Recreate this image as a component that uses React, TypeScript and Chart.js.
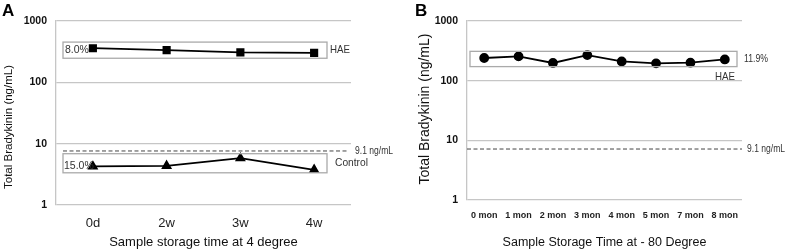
import React, { useEffect, useRef } from "react";
import { Chart, registerables } from "chart.js";

Chart.register(...registerables);

// Panel A data
const catsA = ["0d", "2w", "3w", "4w"];
const haeA = [360, 335, 307, 302];
const controlA = [4.25, 4.35, 5.8, 3.75];
// Panel B data
const catsB = ["0 mon", "1 mon", "2 mon", "3 mon", "4 mon", "5 mon", "7 mon", "8 mon"];
const haeB = [240, 255, 198, 268, 210, 195, 200, 227];
// y-axis ticks
const yTicks = [1, 10, 100, 1000];
// Reference (cut-off) lines as drawn
const cutoffA = 7.6;
const cutoffB = 7.15;
const cutoffLabel = "9.1 ng/mL";
const yTitleText = "Total Bradykinin (ng/mL)";
// CV boxes [low, high]
const boxHaeA = [247, 453];
const boxCtrlA = [3.35, 6.86];
const boxHaeB = [172, 310];

const FONT = "'Liberation Sans', Arial, sans-serif";
const GRID = "#c6c6c6";

type Ann = {
  letter: string;
  letterX: number;
  cutoff: number;
  dashL: number;
  dashR: number;
  labelX: number;
  labelW: number;
  yTitle: { x: number; y: number; size: number };
  boxes: { range: number[]; l: number; r: number }[];
  texts: { t: string; x: number; y: number; align: CanvasTextAlign; size?: number; w?: number }[];
};

function makePlugin(a: Ann) {
  return {
    id: "ann" + a.letter,
    afterDatasetsDraw(chart: any) {
      const ctx = chart.ctx as CanvasRenderingContext2D;
      const ys = chart.scales.y;
      const ca = chart.chartArea;
      ctx.save();
      // boxes
      ctx.strokeStyle = "#aaaaaa";
      ctx.lineWidth = 1.3;
      for (const b of a.boxes) {
        const y1 = ys.getPixelForValue(b.range[1]);
        const y0 = ys.getPixelForValue(b.range[0]);
        ctx.strokeRect(ca.left + b.l, y1, ca.right - b.r - (ca.left + b.l), y0 - y1);
      }
      // cutoff dashed line
      const yc = ys.getPixelForValue(a.cutoff);
      ctx.strokeStyle = "#444";
      ctx.lineWidth = 1;
      ctx.setLineDash([4, 2.5]);
      ctx.beginPath();
      ctx.moveTo(ca.left + a.dashL, yc);
      ctx.lineTo(ca.right + a.dashR, yc);
      ctx.stroke();
      ctx.setLineDash([]);
      ctx.fillStyle = "#333";
      ctx.font = `10.5px ${FONT}`;
      ctx.textBaseline = "middle";
      ctx.textAlign = "left";
      ctx.fillText(cutoffLabel, ca.right + a.labelX, yc, a.labelW);
      for (const t of a.texts) {
        ctx.font = `${t.size || 10.5}px ${FONT}`;
        ctx.textAlign = t.align;
        if (t.w) ctx.fillText(t.t, t.x, t.y, t.w);
        else ctx.fillText(t.t, t.x, t.y);
      }
      // y title
      ctx.save();
      ctx.fillStyle = "#111";
      ctx.font = `${a.yTitle.size}px ${FONT}`;
      ctx.textAlign = "center";
      ctx.textBaseline = "middle";
      ctx.translate(a.yTitle.x, a.yTitle.y);
      ctx.rotate(-Math.PI / 2);
      ctx.fillText(yTitleText, 0, 0);
      ctx.restore();
      // panel letter
      ctx.fillStyle = "#000";
      ctx.font = `bold 17px ${FONT}`;
      ctx.textAlign = "left";
      ctx.textBaseline = "top";
      ctx.fillText(a.letter, a.letterX, 3);
      ctx.restore();
    },
  };
}

function makeConfig(opts: {
  cats: string[];
  datasets: any[];
  plugin: any;
  padRight: number;
  yWidth: number;
  xHeight: number;
  xTitle: string;
  xTitleSize: number;
  xTickFont: any;
  xTickPad: number;
}): any {
  return {
    type: "line",
    data: { labels: opts.cats, datasets: opts.datasets },
    options: {
      animation: false,
      responsive: false,
      maintainAspectRatio: false,
      layout: { padding: { top: 21, right: opts.padRight, left: 0, bottom: 0 } },
      plugins: { legend: { display: false }, tooltip: { enabled: false } },
      scales: {
        x: {
          type: "category",
          offset: true,
          grid: { display: false, drawTicks: false },
          border: { display: false },
          ticks: { color: "#222", font: opts.xTickFont, padding: opts.xTickPad, maxRotation: 0, autoSkip: false },
          title: {
            display: true,
            text: opts.xTitle,
            color: "#111",
            font: { family: FONT, size: opts.xTitleSize },
            padding: { top: 0, bottom: 0 },
          },
          afterFit: (s: any) => {
            s.height = opts.xHeight;
          },
        },
        y: {
          type: "logarithmic",
          min: 1,
          max: 1000,
          afterBuildTicks: (s: any) => {
            s.ticks = yTicks.map((v) => ({ value: v }));
          },
          afterFit: (s: any) => {
            s.width = opts.yWidth;
          },
          grid: { color: GRID, lineWidth: 1.3, drawTicks: false },
          border: { display: true, color: GRID, width: 1.3 },
          ticks: {
            color: "#111",
            font: { family: FONT, size: 10.5, weight: "bold" },
            padding: 9,
            callback: (v: any) => String(v),
          },
          title: { display: false },
        },
      },
    },
    plugins: [opts.plugin],
  };
}

function ChartA() {
  const ref = useRef<HTMLCanvasElement>(null);
  useEffect(() => {
    const plugin = makePlugin({
      letter: "A",
      letterX: 2,
      cutoff: cutoffA,
      dashL: 7,
      dashR: -3,
      labelX: 4,
      labelW: 38,
      yTitle: { x: 9, y: 127, size: 11.5 },
      boxes: [
        { range: boxHaeA, l: 7, r: 24 },
        { range: boxCtrlA, l: 7, r: 24 },
      ],
      texts: [
        { t: "8.0%", x: 65, y: 50, align: "left" },
        { t: "HAE", x: 330, y: 50, align: "left", w: 20 },
        { t: "15.0%", x: 64, y: 166, align: "left" },
        { t: "Control", x: 335, y: 163, align: "left", w: 33 },
      ],
    });
    const c = new Chart(
      ref.current!,
      makeConfig({
        cats: catsA,
        datasets: [
          {
            data: haeA,
            borderColor: "#000",
            backgroundColor: "#000",
            borderWidth: 1.8,
            pointStyle: "rect",
            pointRadius: 4.5,
          },
          {
            data: controlA,
            borderColor: "#000",
            backgroundColor: "#000",
            borderWidth: 1.8,
            pointStyle: "triangle",
            pointRadius: 4.5,
          },
        ],
        plugin,
        padRight: 43,
        yWidth: 56,
        xHeight: 45,
        xTitle: "Sample storage time at 4 degree",
        xTitleSize: 13,
        xTickFont: { family: FONT, size: 13 },
        xTickPad: 11,
      })
    );
    return () => c.destroy();
  }, []);
  return <canvas ref={ref} width={394} height={250} style={{ position: "absolute", left: 0, top: 0 }} />;
}

function ChartB() {
  const ref = useRef<HTMLCanvasElement>(null);
  useEffect(() => {
    const plugin = makePlugin({
      letter: "B",
      letterX: 21,
      cutoff: cutoffB,
      dashL: 0,
      dashR: 0,
      labelX: 5,
      labelW: 38,
      yTitle: { x: 31, y: 109, size: 14 },
      boxes: [{ range: boxHaeB, l: 3, r: 5 }],
      texts: [
        { t: "11.9%", x: 350, y: 59, align: "left", w: 24 },
        { t: "HAE", x: 341, y: 77, align: "right", size: 11, w: 20 },
      ],
    });
    const c = new Chart(
      ref.current!,
      makeConfig({
        cats: catsB,
        datasets: [
          {
            data: haeB,
            borderColor: "#000",
            backgroundColor: "#000",
            borderWidth: 1.8,
            pointStyle: "circle",
            pointRadius: 4,
          },
        ],
        plugin,
        padRight: 46,
        yWidth: 73,
        xHeight: 50,
        xTitle: "Sample Storage Time at - 80 Degree",
        xTitleSize: 12.5,
        xTickFont: { family: FONT, size: 9, weight: "bold" },
        xTickPad: 10,
      })
    );
    return () => c.destroy();
  }, []);
  return <canvas ref={ref} width={394} height={250} style={{ position: "absolute", left: 394, top: 0 }} />;
}

export default function App() {
  return (
    <div style={{ position: "absolute", left: 0, top: 0, width: 788, height: 250, background: "#fff" }}>
      <ChartA />
      <ChartB />
    </div>
  );
}
